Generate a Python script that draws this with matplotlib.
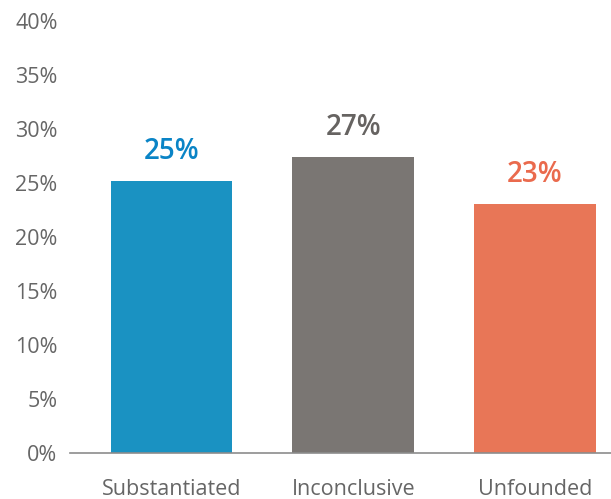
import matplotlib
matplotlib.use("Agg")
import matplotlib.pyplot as plt

# data
categories = ["Substantiated", "Inconclusive", "Unfounded"]
values = [25.2, 27.4, 23.05]
labels = ["25%", "27%", "23%"]
bar_colors = ["#1a92c2", "#7a7673", "#e87657"]
label_colors = ["#0a84c6", "#666361", "#ea6a4d"]
yticks = [0, 5, 10, 15, 20, 25, 30, 35, 40]

plt.rcParams['font.family'] = ['Open Sans', 'DejaVu Sans']

fig = plt.figure(figsize=(6.11, 4.99), dpi=100)
ax = fig.add_axes([0.1146, 0.0922, 0.8854, 0.866])

x = range(len(categories))
ax.bar(x, values, width=0.67, color=bar_colors)
for i, v in enumerate(values):
    ax.text(i, v + 2.7, labels[i], ha="center", va="center",
            fontsize=20, fontweight="semibold", color=label_colors[i])

ax.set_xlim(-0.56, 2.42)
ax.set_ylim(0, 40)
ax.set_yticks(yticks)
ax.set_yticklabels([f"{t}%" for t in yticks])
ax.set_xticks(list(x))
ax.set_xticklabels(categories)
ax.tick_params(axis="both", length=0, labelsize=15.5, colors="#666666")
ax.tick_params(axis="x", pad=19)
ax.tick_params(axis="y", pad=9)

for s in ["top", "right", "left"]:
    ax.spines[s].set_visible(False)
ax.spines["bottom"].set_color("#8c8c8c")
ax.spines["bottom"].set_linewidth(1.2)

fig.savefig("out.png", dpi=100)
